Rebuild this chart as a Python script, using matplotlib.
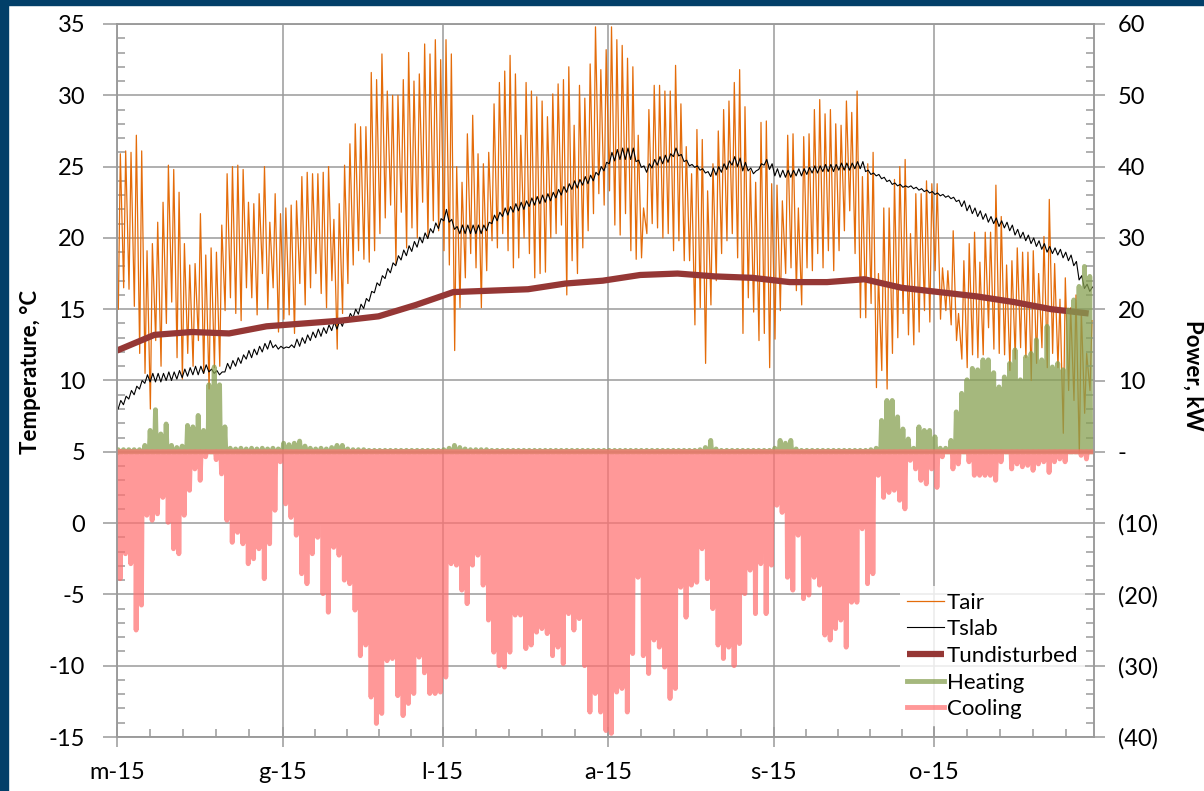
import numpy as np
import pandas as pd
import matplotlib
matplotlib.use('Agg')
import matplotlib.pyplot as plt
import matplotlib.dates as mdates
from matplotlib.patches import Rectangle
from matplotlib.ticker import MultipleLocator, FixedLocator, FixedFormatter, FuncFormatter

plt.rcParams['font.family'] = ['Lato', 'DejaVu Sans']
plt.rcParams['axes.unicode_minus'] = False

# Daily readings, 1 May - 30 Oct 2015
start = '2015-05-01'
end = '2015-10-31'
month_labels = ['m-15', 'g-15', 'l-15', 'a-15', 's-15', 'o-15']

# air temperature, daily max / min (°C)
tair_max = [
    25.9, 26.1, 26.0, 27.2, 26.1, 19.1, 19.6, 21.1, 22.5, 25.1,
    24.8, 23.2, 19.6, 18.1, 18.2, 21.7, 18.8, 19.3, 19.0, 20.9,
    24.5, 25.0, 25.1, 24.8, 22.5, 22.4, 23.1, 25.0, 21.1, 23.1, 21.7,
    22.1, 22.3, 22.6, 24.3, 24.6, 24.5, 24.5, 24.6, 25.0, 21.3,
    22.4, 25.1, 26.6, 28.0, 27.8, 27.8, 31.6, 31.1, 32.9, 30.3,
    30.0, 30.0, 31.1, 33.0, 31.0, 31.5, 33.6, 32.9, 33.9, 32.5,
    33.9, 32.9, 25.0, 23.9, 27.3, 28.6, 25.9, 25.2, 26.0, 29.4,
    30.9, 31.7, 32.8, 31.5, 27.2, 30.9, 30.3, 29.9, 29.6, 28.5,
    30.1, 30.8, 31.1, 32.0, 27.9, 30.7, 29.8, 32.2, 34.8, 31.8, 33.2,
    34.8, 33.9, 33.5, 32.6, 32.0, 27.2, 22.1, 29.0, 30.7, 30.7,
    30.3, 30.3, 32.1, 29.4, 26.4, 24.5, 27.6, 26.9, 23.3, 25.2,
    27.5, 29.0, 29.6, 30.9, 31.8, 29.2, 24.7, 23.9, 28.1, 28.2, 23.8,
    23.7, 22.6, 27.2, 27.3, 22.1, 27.1, 27.3, 29.0, 29.7, 28.7,
    29.0, 28.0, 27.9, 29.6, 28.8, 30.3, 24.3, 25.2, 26.0, 17.5,
    22.1, 22.1, 24.1, 25.0, 25.5, 20.3, 23.1, 23.1, 24.0, 23.8,
    23.8, 17.9, 17.7, 20.5, 14.7, 18.4, 19.6, 20.4, 18.3, 20.4,
    20.4, 23.7, 21.5, 18.1, 18.4, 19.3, 19.0, 19.0, 19.1, 17.5,
    20.1, 22.7, 18.2, 15.7, 17.2, 15.1, 16.0, 14.9, 11.9, 14.2,
]
tair_min = [
    15.0, 16.5, 16.4, 15.2, 11.9, 10.5, 8.0, 12.8, 11.0, 14.0,
    15.5, 11.6, 10.1, 11.9, 11.0, 12.8, 10.5, 9.4, 10.9, 11.0,
    14.9, 15.8, 14.7, 14.2, 16.5, 15.8, 14.6, 17.5, 15.0, 16.5, 13.4,
    14.3, 14.6, 13.3, 16.8, 15.3, 16.5, 17.5, 16.1, 15.1, 17.0,
    12.2, 14.7, 16.8, 18.1, 19.1, 18.5, 18.3, 19.1, 20.3, 21.4,
    22.3, 18.2, 21.8, 19.3, 20.7, 20.0, 22.5, 20.0, 21.2, 20.5,
    19.1, 18.1, 12.1, 15.1, 17.2, 18.9, 17.9, 15.1, 17.7, 19.8,
    19.3, 20.3, 19.1, 17.9, 18.6, 20.0, 18.9, 17.2, 17.5, 17.6,
    20.0, 20.3, 20.9, 16.0, 18.4, 17.5, 19.3, 20.5, 21.7, 23.1, 22.3,
    23.3, 20.9, 20.2, 21.7, 19.1, 18.5, 18.6, 20.3, 21.0, 20.7,
    20.0, 20.3, 19.1, 19.8, 18.4, 18.4, 13.9, 15.1, 11.2, 15.3,
    17.0, 18.9, 19.8, 20.3, 18.6, 13.3, 15.8, 14.8, 12.8, 13.3, 10.9,
    12.9, 14.9, 17.5, 17.9, 16.3, 15.3, 17.9, 17.7, 18.9, 17.9,
    19.1, 17.7, 19.1, 20.5, 21.9, 18.9, 14.4, 14.4, 15.4, 9.5,
    10.7, 9.4, 11.9, 13.0, 14.7, 13.2, 12.5, 13.4, 14.9, 14.1,
    17.7, 14.3, 14.9, 13.9, 12.8, 11.5, 10.9, 11.8, 11.6, 11.8,
    13.7, 12.2, 11.9, 11.8, 10.7, 11.5, 12.3, 11.6, 10.0, 11.2,
    12.3, 10.9, 11.9, 10.9, 6.3, 9.3, 8.6, 4.9, 7.7, 9.3,
]

# slab temperature, daily mean and half swing (°C)
tslab_mean = [
    8.3, 8.6, 9.0, 9.3, 9.7, 10.1, 10.2, 10.2, 10.2, 10.3,
    10.3, 10.4, 10.5, 10.6, 10.7, 10.7, 10.8, 10.7, 10.6, 10.5,
    10.9, 11.1, 11.3, 11.5, 11.8, 11.9, 12.1, 12.3, 12.5, 12.4, 12.3,
    12.3, 12.4, 12.6, 12.7, 12.9, 13.1, 13.3, 13.4, 13.6, 13.8,
    13.9, 14.1, 14.4, 14.7, 15.0, 15.4, 15.9, 16.5, 17.0, 17.5,
    17.9, 18.4, 18.8, 19.1, 19.4, 19.7, 20.0, 20.3, 20.7, 21.0,
    21.6, 21.2, 20.7, 20.6, 20.6, 20.6, 20.6, 20.6, 20.8, 21.3,
    21.5, 21.8, 21.9, 22.1, 22.2, 22.3, 22.5, 22.6, 22.7, 22.8,
    22.9, 23.1, 23.3, 23.5, 23.7, 23.8, 24.0, 24.1, 24.3, 24.7, 25.0,
    25.6, 25.8, 25.9, 25.9, 25.9, 25.4, 25.0, 24.9, 25.2, 25.4,
    25.5, 25.6, 26.0, 25.8, 25.4, 25.1, 25.0, 24.8, 24.6, 24.6,
    24.7, 24.9, 25.1, 25.4, 25.3, 25.0, 24.8, 24.6, 25.0, 25.3, 25.0,
    24.6, 24.5, 24.5, 24.5, 24.6, 24.6, 24.7, 24.8, 24.8, 24.9,
    24.9, 24.9, 25.0, 25.0, 25.0, 25.1, 25.1, 24.7, 24.5, 24.4,
    24.2, 24.0, 23.8, 23.7, 23.6, 23.6, 23.5, 23.4, 23.3, 23.2,
    23.1, 23.0, 22.9, 22.8, 22.6, 22.4, 22.1, 21.9, 21.7, 21.5,
    21.3, 21.2, 21.0, 20.9, 20.7, 20.4, 20.2, 20.0, 19.8, 19.6,
    19.4, 19.2, 19.1, 19.0, 18.8, 18.6, 18.2, 17.2, 16.6, 16.4,
]
tslab_swing = [
    0.3, 0.3, 0.3, 0.3, 0.3, 0.3, 0.3, 0.3, 0.3, 0.3,
    0.3, 0.3, 0.3, 0.3, 0.3, 0.3, 0.3, 0.1, 0.1, 0.1,
    0.3, 0.3, 0.3, 0.3, 0.3, 0.3, 0.3, 0.3, 0.3, 0.1, 0.1,
    0.05, 0.1, 0.3, 0.3, 0.3, 0.3, 0.3, 0.3, 0.3, 0.3,
    0.3, 0.3, 0.3, 0.3, 0.35, 0.35, 0.35, 0.35, 0.35, 0.35,
    0.35, 0.35, 0.35, 0.35, 0.35, 0.35, 0.35, 0.35, 0.35, 0.35,
    0.4, 0.1, 0.1, 0.3, 0.3, 0.3, 0.3, 0.3, 0.3, 0.3,
    0.3, 0.3, 0.3, 0.3, 0.3, 0.3, 0.3, 0.3, 0.3, 0.3,
    0.3, 0.3, 0.3, 0.3, 0.3, 0.3, 0.3, 0.3, 0.3, 0.3, 0.3,
    0.4, 0.4, 0.4, 0.4, 0.4, 0.05, 0.05, 0.3, 0.3, 0.3,
    0.3, 0.3, 0.3, 0.05, 0.05, 0.05, 0.05, 0.05, 0.05, 0.3,
    0.3, 0.3, 0.3, 0.3, 0.3, 0.3, 0.1, 0.1, 0.2, 0.2, 0.2,
    0.25, 0.25, 0.25, 0.25, 0.25, 0.25, 0.25, 0.25, 0.25, 0.25,
    0.25, 0.25, 0.25, 0.25, 0.25, 0.25, 0.25, 0.05, 0.05, 0.05,
    0.05, 0.05, 0.05, 0.05, 0.05, 0.05, 0.05, 0.05, 0.05, 0.05,
    0.05, 0.05, 0.05, 0.05, 0.05, 0.2, 0.2, 0.2, 0.2, 0.2,
    0.2, 0.2, 0.2, 0.2, 0.2, 0.2, 0.2, 0.2, 0.2, 0.2,
    0.2, 0.2, 0.2, 0.2, 0.2, 0.2, 0.15, 0.15, 0.15, 0.15,
]

# undisturbed ground temperature, weekly (°C)
tund_weekly = [
    12.1, 13.2, 13.4, 13.3, 13.8, 14.0, 14.2, 14.5, 15.3, 16.2,
    16.3, 16.4, 16.8, 17.0, 17.4, 17.5, 17.3, 17.2, 16.9, 16.9,
    17.1, 16.5, 16.2, 15.9, 15.5, 15.0, 14.7,
]

# daily peak heating / cooling power (kW)
heating = [
    0.3, 0.3, 0.3, 0.3, 0.3, 0.9, 3.0, 5.9, 2.5, 3.9,
    0.9, 0.6, 0.8, 3.7, 3.5, 5.1, 3.0, 9.4, 11.9, 9.4,
    3.5, 0.5, 0.4, 0.5, 0.4, 0.5, 0.4, 0.5, 0.4, 0.5, 0.4,
    1.2, 1.0, 1.2, 1.5, 0.8, 0.5, 0.4, 0.5, 0.4, 0.6,
    0.9, 0.9, 0.4, 0.3, 0.3, 0.3, 0.2, 0.2, 0.2, 0.2,
    0.2, 0.2, 0.2, 0.2, 0.2, 0.2, 0.2, 0.2, 0.2, 0.2,
    0.3, 0.5, 0.9, 0.6, 0.4, 0.3, 0.3, 0.3, 0.3, 0.2,
    0.2, 0.2, 0.2, 0.2, 0.2, 0.2, 0.2, 0.2, 0.2, 0.2,
    0.2, 0.2, 0.2, 0.2, 0.2, 0.2, 0.2, 0.2, 0.2, 0.2, 0.2,
    0.2, 0.2, 0.2, 0.2, 0.2, 0.2, 0.2, 0.2, 0.2, 0.2,
    0.2, 0.2, 0.2, 0.2, 0.2, 0.2, 0.2, 0.3, 0.6, 1.6,
    0.4, 0.2, 0.2, 0.2, 0.2, 0.2, 0.2, 0.2, 0.2, 0.2, 0.2,
    0.5, 1.6, 1.2, 1.6, 0.4, 0.2, 0.2, 0.2, 0.2, 0.2,
    0.2, 0.2, 0.2, 0.2, 0.2, 0.2, 0.2, 0.2, 0.3, 0.5,
    4.4, 7.2, 7.2, 4.9, 3.2, 1.8, 0.5, 3.5, 3.0, 3.0,
    2.1, 0.5, 0.5, 1.6, 5.6, 8.2, 10.1, 11.7, 11.5, 12.9,
    12.9, 11.1, 9.1, 10.5, 12.4, 14.3, 10.1, 13.3, 13.8, 15.7,
    12.9, 17.6, 11.9, 12.4, 11.5, 19.9, 21.3, 23.2, 26.0, 24.6,
]
cooling = [
    -17.8, -14.3, -15.7, -25.0, -21.5, -8.9, -9.6, -8.7, -6.4, -9.9,
    -13.6, -14.3, -8.9, -5.4, -2.4, -4.0, -0.7, 0.0, -1.1, -3.1,
    -9.6, -12.7, -11.3, -12.9, -15.7, -15.0, -13.6, -17.8, -12.9, -8.2, -1.4,
    -7.3, -9.2, -11.7, -17.1, -18.5, -14.3, -12.0, -19.9, -22.5, -13.4,
    -14.5, -18.0, -18.5, -22.2, -28.6, -27.1, -34.4, -38.1, -36.7, -29.3,
    -29.0, -34.2, -37.0, -35.3, -33.9, -28.8, -31.0, -33.9, -33.9, -33.7,
    -31.6, -15.7, -15.9, -19.4, -21.3, -15.9, -14.5, -18.7, -23.6, -28.1,
    -30.0, -30.2, -28.1, -22.9, -22.9, -27.6, -27.1, -25.3, -24.8, -25.5,
    -28.6, -27.4, -29.7, -22.7, -25.0, -23.4, -30.0, -36.5, -33.9, -36.5, -39.1,
    -39.5, -33.7, -33.2, -36.5, -28.3, -17.6, -28.6, -31.1, -26.4, -27.4,
    -30.2, -34.6, -33.2, -19.0, -23.2, -18.7, -18.3, -13.6, -17.8, -22.0,
    -27.1, -29.0, -27.4, -30.0, -26.9, -19.9, -16.6, -22.7, -15.7, -22.7, -15.9,
    -7.5, -8.5, -17.6, -19.4, -11.7, -20.6, -20.1, -17.6, -18.7, -25.7,
    -26.4, -24.8, -23.6, -27.4, -21.1, -21.1, -10.8, -18.5, -17.1, -3.3,
    -6.4, -5.7, -5.4, -6.8, -8.0, -1.2, -2.4, -4.0, -4.5, -2.4,
    -5.0, -0.7, 0.0, -2.4, -1.7, 0.0, -1.4, -3.3, -3.3, -3.3,
    -3.3, -4.0, -1.4, 0.0, -2.4, -1.7, -2.1, -1.9, -2.6, -1.7,
    -1.4, -2.9, -1.4, -1.0, -1.4, 0.0, 0.0, -0.5, -1.0, 0.0,
]

days = pd.date_range(start, periods=len(tair_max), freq='D')
weeks = pd.date_range(start, periods=len(tund_weekly), freq='7D')
hr = pd.Timedelta(hours=1)
zeros = np.zeros(len(days))


def daily(offsets, cols):
    # spread per-day values over the hours of each day
    t = np.column_stack([(days + h * hr).values for h in offsets]).ravel()
    v = np.column_stack(cols).ravel()
    return t, v


tair_t, tair_v = daily([6, 15], [tair_min, tair_max])
slab_lo = np.array(tslab_mean) - np.array(tslab_swing)
slab_hi = np.array(tslab_mean) + np.array(tslab_swing)
slab_t, slab_v = daily([5, 17], [slab_lo, slab_hi])
heat_t, heat_v = daily([1, 5, 9], [zeros, heating, zeros])
cool_t, cool_v = daily([11, 14, 18], [zeros, cooling, zeros])

grey = '#9A9A9A'
fig = plt.figure(figsize=(12.04, 7.91), dpi=100)
fig.patches.append(Rectangle((0, 0), 8 / 1204, 1, transform=fig.transFigure,
                             color='#023F69', zorder=0))
fig.patches.append(Rectangle((0, 1 - 5 / 791), 1, 5 / 791, transform=fig.transFigure,
                             color='#023F69', zorder=0))

ax1 = fig.add_axes([117 / 1204, 1 - 737 / 791, 977 / 1204, 713 / 791])
ax1.plot(tair_t, tair_v, color='#E46C0A', lw=0.9, label='Tair')
ax1.plot(slab_t, slab_v, color='black', lw=0.8, label='Tslab')
ax1.plot(weeks, tund_weekly, color='#953735', lw=4.5, solid_capstyle='butt',
         label='Tundisturbed')

ax2 = ax1.twinx()
ax2.plot(heat_t, heat_v, color='#87A052', alpha=0.75, lw=3.5, label='Heating')
ax2.plot(cool_t, cool_v, color='#FF7070', alpha=0.72, lw=3.5, label='Cooling')

# x axis: month starts, minor ticks at fifths of each month
month_starts = pd.date_range(start, periods=len(month_labels) + 1, freq='MS')
major = mdates.date2num(month_starts[:-1])
minor = []
for a, b in zip(mdates.date2num(month_starts[:-1]), mdates.date2num(month_starts[1:])):
    minor += [a + k * (b - a) / 5 for k in range(1, 5)]
ax1.set_xlim(major[0], mdates.date2num(pd.Timestamp(end)))
ax1.xaxis.set_major_locator(FixedLocator(major))
ax1.xaxis.set_major_formatter(FixedFormatter(month_labels))
ax1.xaxis.set_minor_locator(FixedLocator(minor))

ax1.set_ylim(-15, 35)
ax1.yaxis.set_major_locator(MultipleLocator(5))
ax1.yaxis.set_minor_locator(MultipleLocator(1))
ax2.set_ylim(-40, 60)
ax2.yaxis.set_major_locator(MultipleLocator(10))
ax2.yaxis.set_minor_locator(MultipleLocator(2))


def accounting(v, pos):
    if abs(v) < 1e-9:
        return '-'
    return f'({-v:.0f})' if v < 0 else f'{v:.0f}'


ax2.yaxis.set_major_formatter(FuncFormatter(accounting))

ax1.grid(True, which='major', color=grey, lw=1.1)
ax1.set_axisbelow(True)
for ax in (ax1, ax2):
    for s in ax.spines.values():
        s.set_color(grey)
        s.set_linewidth(1.1)

ax1.tick_params(axis='x', which='major', direction='inout', length=14, width=1.1,
                color=grey, labelsize=17, pad=11)
ax1.tick_params(axis='x', which='minor', direction='in', length=6, width=1.1, color=grey)
ax1.tick_params(axis='y', which='major', direction='out', length=10, width=1.1,
                color=grey, labelsize=17, pad=13)
ax1.tick_params(axis='y', which='minor', direction='in', length=6, width=1.1, color=grey)
ax2.tick_params(axis='y', which='major', direction='out', length=8, width=1.1,
                color=grey, labelsize=17, pad=9)
ax2.tick_params(axis='y', which='minor', direction='in', length=6, width=1.1, color=grey)

fig.text(31 / 1204, 1 - 372 / 791, 'Temperature, °C', rotation=90, fontsize=16,
         fontweight='bold', ha='center', va='center')
fig.text(1193 / 1204, 1 - 375 / 791, 'Power, kW', rotation=270, fontsize=16,
         fontweight='bold', ha='center', va='center')

h1, l1 = ax1.get_legend_handles_labels()
h2, l2 = ax2.get_legend_handles_labels()
leg = ax2.legend(h1 + h2, l1 + l2, loc='lower left', bbox_to_anchor=(0.79, 0.0),
                 fontsize=16, handlelength=1.7, handletextpad=0.1, labelspacing=0.3,
                 frameon=True, framealpha=0.8, edgecolor='none', fancybox=False,
                 borderpad=0.3)

fig.savefig('out.png', dpi=100)
